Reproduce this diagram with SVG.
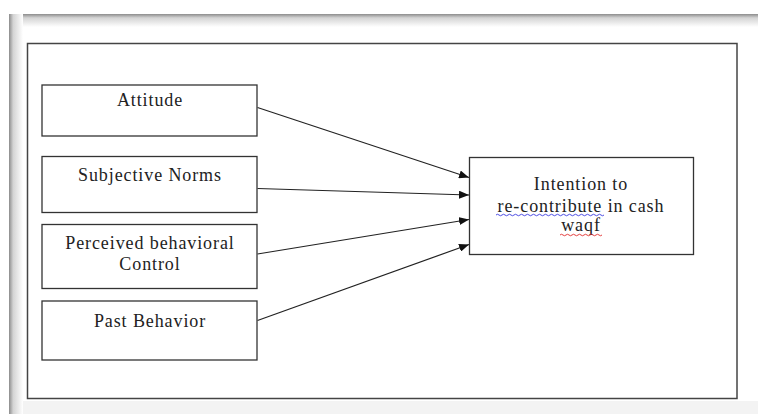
<svg xmlns="http://www.w3.org/2000/svg" width="758" height="414" viewBox="0 0 758 414">
  <defs>
    <linearGradient id="gTop" x1="0" y1="0" x2="0" y2="1">
      <stop offset="0" stop-color="#8c8c8c"/>
      <stop offset="0.3" stop-color="#d4d4d4"/>
      <stop offset="1" stop-color="#ffffff"/>
    </linearGradient>
    <linearGradient id="gLeft" x1="0" y1="0" x2="1" y2="0">
      <stop offset="0" stop-color="#8c8c8c"/>
      <stop offset="0.3" stop-color="#d4d4d4"/>
      <stop offset="1" stop-color="#ffffff"/>
    </linearGradient>
    <marker id="arrow" viewBox="0 0 10 8" refX="10" refY="4" markerWidth="10" markerHeight="8" markerUnits="userSpaceOnUse" orient="auto">
      <path d="M0,0 L10,4 L0,8 Z" fill="#111"/>
    </marker>
    <style>
      .box { fill: #fff; stroke: #333; stroke-width: 1.3; }
      .lbl { font-family: "Liberation Serif", "Times New Roman", serif; font-size: 18px; letter-spacing: 0.9px; fill: #222; text-anchor: middle; }
      .conn { stroke: #222; stroke-width: 1.2; fill: none; marker-end: url(#arrow); }
    </style>
  </defs>

  <!-- page background and shadow frame -->
  <rect x="0" y="0" width="758" height="414" fill="#fff"/>
  <rect x="9" y="401" width="749" height="13" fill="#f3f3f3"/>
  <rect x="9" y="14" width="749" height="13" fill="url(#gTop)"/>
  <rect x="9" y="14" width="14" height="400" fill="url(#gLeft)"/>

  <!-- outer diagram border -->
  <rect x="27.5" y="43.5" width="709.5" height="355" fill="#fff" stroke="#444" stroke-width="1.5"/>

  <g id="connectors">
    <line class="conn" x1="257.5" y1="107.5" x2="469" y2="177.5"/>
    <line class="conn" x1="257.5" y1="188.5" x2="469" y2="195"/>
    <line class="conn" x1="257.5" y1="254" x2="469" y2="219.5"/>
    <line class="conn" x1="257.5" y1="320.5" x2="469" y2="244.5"/>
  </g>

  <g id="attitude">
    <rect class="box" x="42" y="85" width="215" height="51"/>
    <text class="lbl" x="150" y="105.5">Attitude</text>
  </g>

  <g id="subjective-norms">
    <rect class="box" x="42" y="156.5" width="215" height="56"/>
    <text class="lbl" x="150" y="181">Subjective Norms</text>
  </g>

  <g id="perceived-behavioral-control">
    <rect class="box" x="42" y="224.5" width="215" height="64"/>
    <text class="lbl" x="150" y="248.5">Perceived behavioral</text>
    <text class="lbl" x="150" y="270">Control</text>
  </g>

  <g id="past-behavior">
    <rect class="box" x="42" y="301" width="215" height="59"/>
    <text class="lbl" x="150" y="326.5">Past Behavior</text>
  </g>

  <g id="intention">
    <rect class="box" x="469.5" y="157.5" width="224" height="97"/>
    <text class="lbl" x="581" y="189.5">Intention to</text>
    <text class="lbl" x="581" y="211.5">re-contribute in cash</text>
    <text class="lbl" x="581" y="231">waqf</text>
    <path d="M496,215 q1.5,-1.5 3,0 t3,0 t3,0 t3,0 t3,0 t3,0 t3,0 t3,0 t3,0 t3,0 t3,0 t3,0 t3,0 t3,0 t3,0 t3,0 t3,0 t3,0 t3,0 t3,0 t3,0 t3,0 t3,0 t3,0 t3,0 t3,0 t3,0 t3,0 t3,0 t3,0 t3,0 t3,0 t3,0 t3,0 t3,0 t3,0" fill="none" stroke="#3a3ae0" stroke-width="0.9"/>
    <path d="M560,235 q1.5,-1.5 3,0 t3,0 t3,0 t3,0 t3,0 t3,0 t3,0 t3,0 t3,0 t3,0 t3,0 t3,0 t3,0 t3,0" fill="none" stroke="#e02a2a" stroke-width="0.9"/>
  </g>
</svg>
